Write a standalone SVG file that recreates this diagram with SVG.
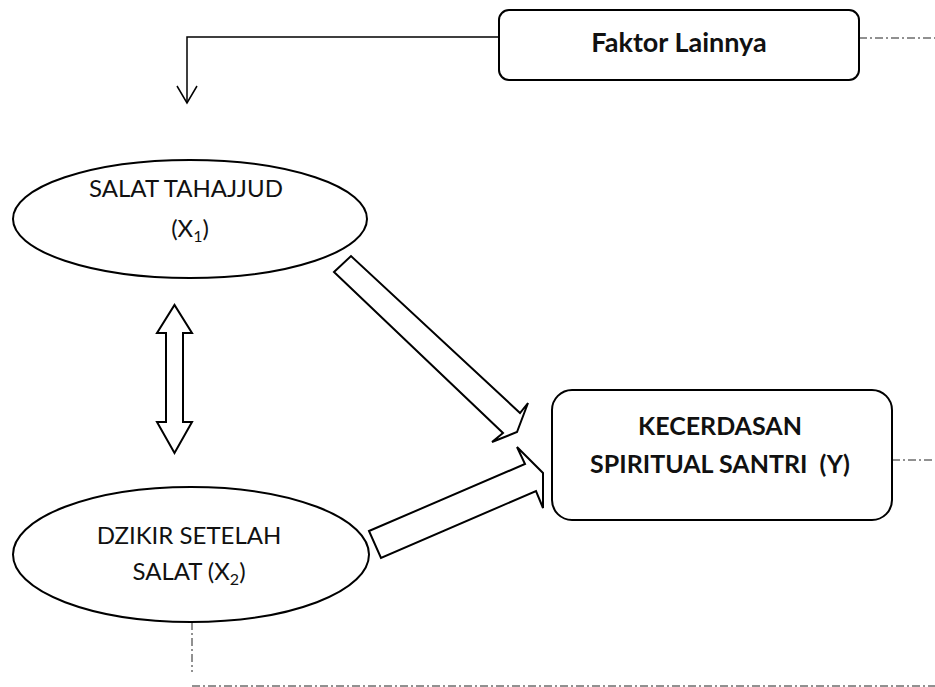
<svg xmlns="http://www.w3.org/2000/svg" width="935" height="687" viewBox="0 0 935 687">
<style>
.node{fill:#fff;stroke:#000;stroke-width:2}
.lbl{font-family:Lato,"Liberation Sans",sans-serif;font-size:24px;fill:#111;text-anchor:middle}
.bold{font-weight:bold;font-size:25px}
.dd{fill:none;stroke:#222;stroke-width:1;stroke-dasharray:8 3 2 3}
.blk{fill:#fff;stroke:#000;stroke-width:2;stroke-linejoin:miter}
.ln{fill:none;stroke:#000;stroke-width:1.5}
</style>
<g id="connectors">
<path class="ln" d="M499,37 H187 V103"/>
<path class="ln" d="M177,86 L187,103 L197,86"/>
<polygon class="blk" points="166,333 157,333 174.5,305 192,333 183,333 183,422 192,422 174.5,453 157,422 166,422"/>
<polygon class="blk" points="334,272 351,256 520,413 528,403 517,432 492,442 503,433"/>
<polygon class="blk" points="369,531 525,464 517,447 543,473 543,508 536,491 381,558"/>
<path class="dd" d="M859,38 H935"/>
<path class="dd" d="M892,460 H935"/>
<path class="dd" d="M192,622 V672"/>
<path class="dd" d="M192,686 H935"/>
</g>
<g id="faktor">
<rect class="node" x="499" y="10" width="360" height="70" rx="10"/>
<text class="lbl bold" x="679" y="52" style="font-size:27px">Faktor Lainnya</text>
</g>
<g id="x1">
<ellipse class="node" cx="190" cy="219" rx="177" ry="59"/>
<text class="lbl" x="186" y="197">SALAT TAHAJJUD</text>
<text class="lbl" x="190" y="237">(X<tspan font-size="16" dy="5">1</tspan><tspan dy="-5">)</tspan></text>
</g>
<g id="x2">
<ellipse class="node" cx="191" cy="554.5" rx="178" ry="67.5"/>
<text class="lbl" x="189" y="544">DZIKIR SETELAH</text>
<text class="lbl" x="189" y="580">SALAT (X<tspan font-size="16" dy="5">2</tspan><tspan dy="-5">)</tspan></text>
</g>
<g id="y">
<rect class="node" x="552" y="390" width="340" height="130" rx="20"/>
<text class="lbl bold" x="720" y="435">KECERDASAN</text>
<text class="lbl bold" x="720" y="473" xml:space="preserve">SPIRITUAL SANTRI  (Y)</text>
</g>
</svg>
